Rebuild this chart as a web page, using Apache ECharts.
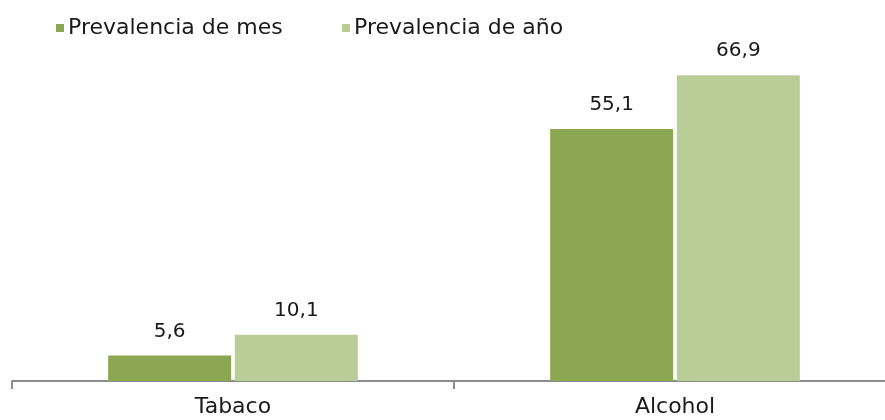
<!DOCTYPE html>
<html>
<head>
<meta charset="utf-8">
<script src="https://cdn.jsdelivr.net/npm/echarts@6/dist/echarts.min.js"></script>
<style>
html,body{margin:0;padding:0;background:#fff;}
#chart{width:885px;height:420px;}
</style>
</head>
<body>
<div id="chart"></div>
<script>
// Categories and series values
var categories = ['Tabaco', 'Alcohol'];
var seriesNames = ['Prevalencia de mes', 'Prevalencia de año'];
var prevalenciaMes = [5.6, 55.1];
var prevalenciaAnio = [10.1, 66.9];

var colors = ['#8BA751', '#BBCD97'];
var font = '"DejaVu Sans", "Open Sans", sans-serif';

function fmt(p) { return p.value.toFixed(1).replace('.', ','); }

function legendFor(name, left) {
  return {
    data: [name],
    left: left,
    top: 12,
    itemWidth: 8,
    itemHeight: 8,
    itemGap: 6,
    icon: 'rect',
    textStyle: { fontFamily: font, fontSize: 22, color: '#1a1a1a', padding: [0, 0, 0, -1] }
  };
}

var chart = echarts.init(document.getElementById('chart'));
chart.setOption({
  animation: false,
  color: colors,
  legend: [legendFor(seriesNames[0], 51), legendFor(seriesNames[1], 337)],
  grid: { left: 12, width: 884, top: 61, bottom: 39, containLabel: false, outerBoundsMode: 'none' },
  xAxis: {
    type: 'category',
    data: categories,
    axisLine: { lineStyle: { color: '#8c8c8c', width: 2 } },
    axisTick: { show: true, length: 8, lineStyle: { color: '#8c8c8c', width: 2 } },
    axisLabel: { fontFamily: font, fontSize: 22, color: '#1a1a1a', margin: 15 }
  },
  yAxis: {
    type: 'value',
    min: 0,
    max: 70,
    show: false,
    splitLine: { show: false }
  },
  series: [
    {
      name: seriesNames[0],
      type: 'bar',
      data: prevalenciaMes,
      barWidth: 123,
      barGap: '3%',
      label: {
        show: true, position: 'top', distance: 14,
        fontFamily: font, fontSize: 20, color: '#1a1a1a',
        formatter: fmt
      }
    },
    {
      name: seriesNames[1],
      type: 'bar',
      data: prevalenciaAnio,
      barWidth: 123,
      label: {
        show: true, position: 'top', distance: 14,
        fontFamily: font, fontSize: 20, color: '#1a1a1a',
        formatter: fmt
      }
    }
  ]
});
</script>
</body>
</html>
